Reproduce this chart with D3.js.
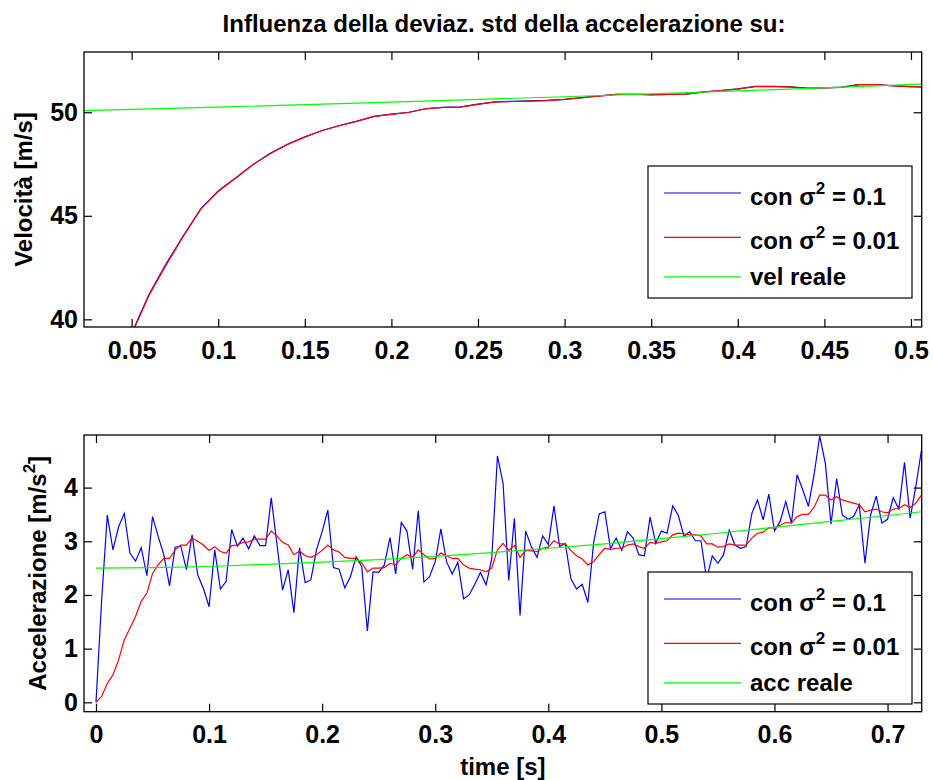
<!DOCTYPE html>
<meta charset="utf-8">
<style>
html, body { margin: 0; padding: 0; background: #fff; }
svg text { font-family: "Liberation Sans", Arial, Helvetica, sans-serif; font-weight: bold; fill: #000; }
</style>
<body>
<script src="https://d3js.org/d3.v7.min.js"></script>
<script>

var width = 933,
    height = 780;

var titleText = "Influenza della deviaz. std della accelerazione su:";

// --- velocity panel (top) ---
var velTime = d3.range(47).map(function(i){ return 0.05 + i * 0.01; });
var velBlue = [39.32, 41.20, 42.69, 44.06, 45.35, 46.20, 46.83, 47.47, 48.02, 48.45,
               48.81, 49.12, 49.36, 49.57, 49.80, 49.91, 50.00, 50.17, 50.24, 50.26,
               50.39, 50.50, 50.53, 50.55, 50.57, 50.62, 50.71, 50.79, 50.86, 50.87,
               50.85, 50.86, 50.88, 50.98, 51.05, 51.13, 51.25, 51.25, 51.23, 51.17,
               51.18, 51.21, 51.33, 51.34, 51.27, 51.24, 51.21];
var velRed  = [39.27, 41.15, 42.63, 44.03, 45.32, 46.17, 46.81, 47.46, 48.00, 48.44,
               48.80, 49.12, 49.35, 49.56, 49.80, 49.90, 49.99, 50.18, 50.24, 50.25,
               50.38, 50.50, 50.52, 50.54, 50.56, 50.62, 50.70, 50.78, 50.86, 50.86,
               50.84, 50.86, 50.87, 50.97, 51.05, 51.12, 51.24, 51.24, 51.23, 51.16,
               51.18, 51.20, 51.33, 51.33, 51.27, 51.24, 51.20];
var velRealTime = [0.02, 0.1, 0.2, 0.3, 0.4, 0.51];
var velReal     = [50.07, 50.25, 50.49, 50.75, 51.03, 51.37];
var velXTicks = [0.05, 0.1, 0.15, 0.2, 0.25, 0.3, 0.35, 0.4, 0.45, 0.5];
var velYTicks = [40, 45, 50];
var velLegend = ["con σ^2 = 0.1", "con σ^2 = 0.01", "vel reale"];

// --- acceleration panel (bottom), one sample every 5 ms ---
var accTime = d3.range(147).map(function(i){ return i * 0.005; });
var accBlue = [0, 1.90, 3.49, 2.84, 3.27, 3.52, 2.78, 2.63, 2.88, 2.36,
               3.46, 3.09, 2.75, 2.17, 2.89, 2.91, 2.47, 3.12, 2.37, 2.12,
               1.78, 2.84, 2.11, 2.25, 3.22, 2.91, 3.06, 2.86, 3.10, 2.92,
               2.92, 3.81, 2.95, 2.09, 2.47, 1.67, 2.88, 2.23, 2.28, 2.84,
               3.18, 3.58, 2.51, 2.48, 2.13, 2.34, 2.71, 2.53, 1.33, 2.43,
               2.42, 2.56, 3.07, 2.39, 3.35, 3.19, 2.48, 3.57, 2.24, 2.34,
               2.62, 3.23, 2.62, 2.39, 2.61, 1.93, 2.00, 2.20, 2.42, 2.19,
               2.68, 4.59, 4.08, 2.27, 3.43, 1.62, 3.19, 2.90, 2.70, 3.10,
               2.94, 3.66, 2.90, 2.96, 2.30, 2.11, 2.20, 1.86, 2.96, 3.51,
               3.55, 2.86, 3.06, 2.83, 3.18, 3.06, 2.75, 2.73, 3.45, 2.96,
               3.19, 3.15, 3.66, 3.48, 3.09, 3.18, 3.01, 3.01, 2.30, 2.73,
               2.59, 2.75, 3.21, 2.93, 2.87, 2.90, 3.52, 3.77, 3.40, 3.88,
               3.19, 3.37, 3.74, 3.34, 4.24, 3.96, 3.65, 4.24, 4.96, 4.45,
               3.32, 4.17, 3.49, 3.41, 3.46, 3.68, 2.59, 3.49, 3.84, 3.34,
               3.41, 3.81, 3.60, 4.47, 3.43, 4.02, 4.70];
var accRed  = [0, 0.11, 0.35, 0.51, 0.79, 1.16, 1.38, 1.60, 1.88, 2.03,
               2.40, 2.56, 2.68, 2.68, 2.84, 2.93, 2.93, 3.06, 3.00, 2.93,
               2.83, 2.90, 2.81, 2.78, 2.92, 2.93, 2.98, 2.99, 3.04, 3.04,
               3.04, 3.19, 3.10, 2.98, 2.93, 2.75, 2.82, 2.73, 2.70, 2.75,
               2.83, 2.93, 2.84, 2.80, 2.70, 2.68, 2.68, 2.60, 2.43, 2.50,
               2.50, 2.51, 2.59, 2.56, 2.68, 2.75, 2.70, 2.84, 2.75, 2.67,
               2.68, 2.78, 2.73, 2.68, 2.68, 2.56, 2.50, 2.48, 2.47, 2.43,
               2.50, 2.84, 2.96, 2.83, 2.92, 2.70, 2.83, 2.82, 2.81, 2.87,
               2.89, 3.01, 2.95, 2.95, 2.83, 2.73, 2.67, 2.56, 2.62, 2.75,
               2.87, 2.85, 2.87, 2.87, 2.93, 2.95, 2.90, 2.87, 2.98, 2.96,
               2.99, 3.01, 3.12, 3.15, 3.14, 3.12, 3.12, 3.10, 2.95, 2.95,
               2.89, 2.90, 2.95, 2.93, 2.93, 2.93, 3.06, 3.15, 3.17, 3.25,
               3.25, 3.30, 3.35, 3.34, 3.46, 3.50, 3.50, 3.63, 3.86, 3.86,
               3.77, 3.83, 3.77, 3.74, 3.71, 3.68, 3.55, 3.58, 3.60, 3.55,
               3.53, 3.60, 3.61, 3.68, 3.63, 3.71, 3.86];
var accRealTime = [0, 0.05, 0.1, 0.15, 0.2, 0.25, 0.3, 0.35, 0.4, 0.45, 0.5, 0.55, 0.6, 0.65, 0.7, 0.73];
var accReal     = [2.50, 2.51, 2.53, 2.57, 2.61, 2.66, 2.72, 2.79, 2.87, 2.95, 3.05, 3.15, 3.26, 3.37, 3.48, 3.55];
var accXTicks = [0, 0.1, 0.2, 0.3, 0.4, 0.5, 0.6, 0.7];
var accYTicks = [0, 1, 2, 3, 4];
var accLegend = ["con σ^2 = 0.1", "con σ^2 = 0.01", "acc reale"];

var plotLeft = 84, plotRight = 921.7;
var colors = ["#0000ff", "#ff0000", "#00ff00"];

var svg = d3.select("body").append("svg")
    .attr("width", width)
    .attr("height", height);

svg.append("text")
    .attr("x", 504).attr("y", 32)
    .attr("text-anchor", "middle")
    .style("font-size", "24px")
    .text(titleText);

// text with "^x" superscripts
function richText(sel, str){
  var parts = str.split("^");
  sel.append("tspan").text(parts[0]);
  for (var i = 1; i < parts.length; i++){
    sel.append("tspan").attr("dy", -11).style("font-size", "17px").text(parts[i][0]);
    sel.append("tspan").attr("dy", 11).text(parts[i].slice(1));
  }
}

function drawPanel(p){
  var x = d3.scaleLinear().domain(p.xDomain).range([plotLeft, plotRight]);
  var y = d3.scaleLinear().domain(p.yDomain).range([p.bottom, p.top]);
  var fmt = d3.format("~g");

  svg.append("clipPath").attr("id", "clip-" + p.id)
    .append("rect")
      .attr("x", plotLeft).attr("y", p.top)
      .attr("width", plotRight - plotLeft).attr("height", p.bottom - p.top);

  var g = svg.append("g").attr("clip-path", "url(#clip-" + p.id + ")");
  var line = d3.line()
      .x(function(d){ return x(d[0]); })
      .y(function(d){ return y(d[1]); });

  p.series.forEach(function(s, i){
    g.append("path")
      .datum(d3.zip(s.x, s.y))
      .attr("fill", "none")
      .attr("stroke", colors[i])
      .attr("stroke-width", 1.2)
      .attr("d", line);
  });

  var axes = [
    svg.append("g").attr("transform", "translate(0," + p.bottom + ")")
      .call(d3.axisBottom(x).tickValues(p.xTicks).tickFormat(fmt).tickSizeInner(-8).tickSizeOuter(0).tickPadding(14)),
    svg.append("g").attr("transform", "translate(0," + p.top + ")")
      .call(d3.axisTop(x).tickValues(p.xTicks).tickFormat("").tickSizeInner(-8).tickSizeOuter(0)),
    svg.append("g").attr("transform", "translate(" + plotLeft + ",0)")
      .call(d3.axisLeft(y).tickValues(p.yTicks).tickFormat(fmt).tickSizeInner(-8).tickSizeOuter(0).tickPadding(6)),
    svg.append("g").attr("transform", "translate(" + plotRight + ",0)")
      .call(d3.axisRight(y).tickValues(p.yTicks).tickFormat("").tickSizeInner(-8).tickSizeOuter(0))
  ];
  axes.forEach(function(a){
    a.select(".domain").remove();
    a.selectAll("line").attr("stroke", "#000").attr("stroke-width", 1.2);
    a.selectAll("text")
      .attr("font-family", null).attr("font-size", null)
      .style("font-size", "25px");
  });

  svg.append("rect")
    .attr("x", plotLeft).attr("y", p.top)
    .attr("width", plotRight - plotLeft).attr("height", p.bottom - p.top)
    .attr("fill", "none").attr("stroke", "#000").attr("stroke-width", 1.3);

  var yl = svg.append("text")
    .attr("transform", "translate(" + p.ylabelX + "," + ((p.top + p.bottom) / 2) + ") rotate(-90)")
    .attr("text-anchor", "middle")
    .style("font-size", "24px");
  richText(yl, p.ylabel);

  if (p.xlabel){
    svg.append("text")
      .attr("x", (plotLeft + plotRight) / 2).attr("y", p.xlabelY)
      .attr("text-anchor", "middle")
      .style("font-size", "24px")
      .text(p.xlabel);
  }

  // legend
  var lg = svg.append("g").attr("transform", "translate(648," + p.legendTop + ")");
  lg.append("rect")
    .attr("width", 264).attr("height", 132)
    .attr("fill", "#fff").attr("stroke", "#000").attr("stroke-width", 1.2);
  var rows = [27, 71.3, 110.8];
  p.legend.forEach(function(name, i){
    lg.append("line")
      .attr("x1", 16).attr("x2", 93)
      .attr("y1", rows[i]).attr("y2", rows[i])
      .attr("stroke", colors[i]).attr("stroke-width", 1.2);
    var t = lg.append("text")
      .attr("x", 102)
      .attr("y", rows[i] + (name.indexOf("^") >= 0 ? 12 : 8))
      .style("font-size", "24px");
    richText(t, name);
  });
}

drawPanel({
  id: "vel", top: 52, bottom: 327,
  xDomain: [0.0225, 0.5062], yDomain: [39.63, 52.91],
  xTicks: velXTicks, yTicks: velYTicks,
  series: [{x: velTime, y: velBlue}, {x: velTime, y: velRed}, {x: velRealTime, y: velReal}],
  ylabel: "Velocità [m/s]", ylabelX: 31.5,
  legend: velLegend, legendTop: 166
});

drawPanel({
  id: "acc", top: 435, bottom: 711.7,
  xDomain: [-0.0106, 0.7302], yDomain: [-0.175, 4.98],
  xTicks: accXTicks, yTicks: accYTicks,
  series: [{x: accTime, y: accBlue}, {x: accTime, y: accRed}, {x: accRealTime, y: accReal}],
  ylabel: "Accelerazione [m/s^2]", ylabelX: 45.5,
  xlabel: "time [s]", xlabelY: 775,
  legend: accLegend, legendTop: 572
});

</script>
</body>
